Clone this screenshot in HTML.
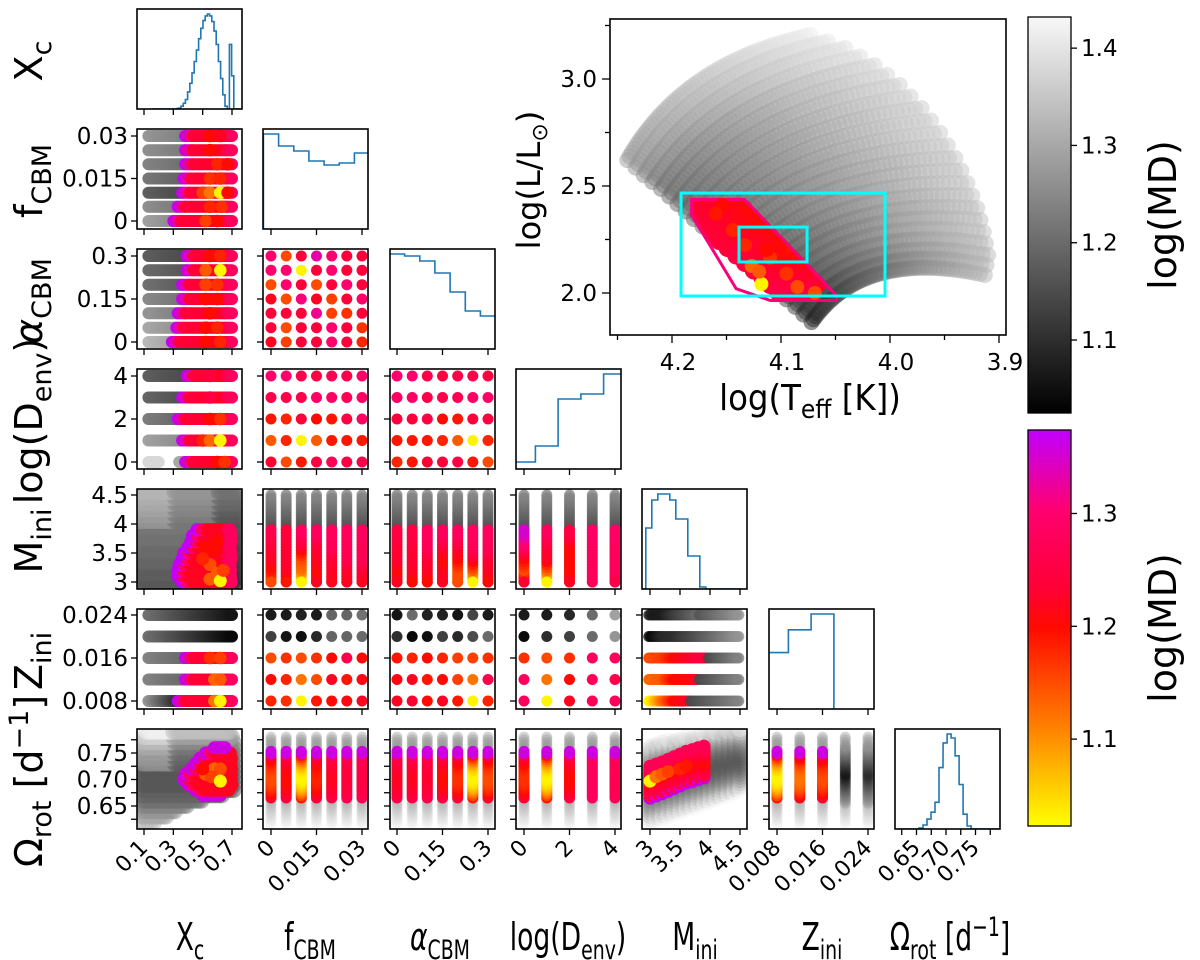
<!DOCTYPE html>
<html><head><meta charset="utf-8"><title>Corner plot</title>
<style>
html,body{margin:0;padding:0;background:#fff;}
svg{display:block;font-family:"DejaVu Sans","Liberation Sans",sans-serif;}
</style></head>
<body>
<svg id="chart" xmlns="http://www.w3.org/2000/svg" width="1200" height="960" viewBox="0 0 1200 960">
<defs>
<linearGradient id="gGray" x1="0" y1="1" x2="0" y2="0">
<stop offset="0" stop-color="#000"/><stop offset="1" stop-color="#f8f8f8"/>
</linearGradient>
<linearGradient id="gHot" x1="0" y1="1" x2="0" y2="0">
<stop offset="0" stop-color="#ffff00"/><stop offset="0.25" stop-color="#ff8000"/><stop offset="0.5" stop-color="#ff0a00"/><stop offset="0.6" stop-color="#ff0035"/><stop offset="0.8" stop-color="#ff0070"/><stop offset="1" stop-color="#c000ff"/>
</linearGradient>
</defs>
</svg>
<script>
// ---------------- DATA ----------------
const fVals=[0.03,0.025,0.02,0.015,0.01,0.005,0];
const aVals=[0.3,0.25,0.2,0.15,0.1,0.05,0];
const dVals=[4,3,2,1,0];
const zVals=[0.024,0.020,0.016,0.012,0.008];
const fBandStart=[0.38,0.38,0.38,0.37,0.36,0.33,0.30];
const fBandGray=[1.24,1.23,1.21,1.19,1.15,1.23,1.26];
const fBandHot=[[[0.55,1.2],[0.62,1.22]],[[0.55,1.2]],[[0.6,1.18],[0.67,1.2]],[[0.55,1.17],[0.62,1.18]],[[0.5,1.16],[0.55,1.12],[0.62,1.03],[0.67,1.2]],[[0.55,1.18],[0.63,1.17]],[[0.52,1.16],[0.6,1.2]]];
const aBandStart=[0.39,0.39,0.36,0.36,0.33,0.32,0.29];
const aBandGray=[1.15,1.17,1.18,1.22,1.24,1.27,1.3];
const aBandHot=[[[0.55,1.2],[0.62,1.18]],[[0.52,1.14],[0.62,1.03]],[[0.52,1.16],[0.6,1.17]],[[0.52,1.2],[0.6,1.2]],[[0.55,1.2]],[[0.52,1.2],[0.6,1.18]],[[0.52,1.2],[0.62,1.18]]];
const dBandStart=[0.39,0.36,0.33,0.36,0.38];
const dBandGray=[1.15,1.16,1.2,1.26,1.38];
const dBandHot=[[[0.55,1.24]],[[0.55,1.25]],[[0.55,1.2],[0.62,1.17]],[[0.5,1.18],[0.55,1.13],[0.62,1.03]],[[0.6,1.2],[0.65,1.17]]];
const zBandStart=[0,0,0.38,0.38,0.33];
const zBandGrayL=[1.21,1.21,1.21,1.21,1.24];
const zBandGrayR=[1.06,1.04,1.2,1.2,1.1];
const zBandHot=[[],[],[[0.55,1.17],[0.62,1.16]],[[0.58,1.13],[0.62,1.14]],[[0.58,1.12],[0.62,1.03]]];
const mdFA=[[1.3,1.15,1.24,1.33,1.3,1.24,1.24],[1.3,1.3,1.03,1.24,1.3,1.24,1.24],[1.15,1.3,1.24,1.15,1.24,1.3,1.24],[1.22,1.15,1.31,1.22,1.16,1.24,1.3],[1.24,1.24,1.24,1.32,1.16,1.17,1.24],[1.24,1.15,1.24,1.24,1.3,1.24,1.17],[1.22,1.16,1.24,1.24,1.3,1.24,1.18]];
const mdFD=[[1.3,1.3,1.26,1.25,1.27,1.26,1.29],[1.26,1.26,1.26,1.29,1.29,1.27,1.29],[1.19,1.18,1.24,1.2,1.19,1.25,1.29],[1.14,1.18,1.03,1.14,1.19,1.19,1.19],[1.23,1.15,1.19,1.25,1.27,1.25,1.26]];
const mdAD=[[1.3,1.3,1.26,1.25,1.26,1.26,1.25],[1.29,1.29,1.26,1.26,1.27,1.29,1.29],[1.24,1.24,1.25,1.2,1.19,1.24,1.25],[1.19,1.19,1.19,1.18,1.14,1.03,1.18],[1.18,1.19,1.23,1.24,1.25,1.19,1.15]];
const mdFZ=[[1.07,1.07,1.08,1.07,1.19,1.19,1.21],[1.13,1.06,1.05,1.09,1.19,1.19,1.2],[1.15,1.17,1.15,1.17,1.2,1.26,1.2],[1.2,1.18,1.12,1.15,1.22,1.19,1.21],[1.18,1.17,1.03,1.19,1.2,1.21,1.22]];
const mdAZ=[[1.06,1.2,1.08,1.08,1.06,1.14,1.07],[1.1,1.04,1.05,1.13,1.09,1.15,1.2],[1.19,1.18,1.2,1.18,1.16,1.16,1.17],[1.21,1.22,1.19,1.2,1.16,1.12,1.26],[1.22,1.23,1.2,1.22,1.19,1.03,1.18]];
const mdDZ=[[1.07,1.07,1.09,1.2,1.29],[1.04,1.1,1.13,1.2,1.27],[1.17,1.15,1.17,1.28,1.28],[1.28,1.12,1.2,1.27,1.26],[1.28,1.03,1.22,1.27,1.28]];
const zColored=[false,false,true,true,true];
const miniKnots=[3.0,3.2,3.4,3.6,3.85];
const mdMF=[[1.15,1.19,1.22,1.23,1.26],[1.19,1.22,1.23,1.23,1.24],[1.03,1.12,1.15,1.22,1.28],[1.22,1.2,1.22,1.23,1.28],[1.22,1.22,1.23,1.27,1.28],[1.22,1.22,1.26,1.27,1.28],[1.22,1.23,1.27,1.27,1.28]];
const mdMA=[[1.22,1.2,1.23,1.23,1.25],[1.2,1.22,1.23,1.23,1.25],[1.2,1.22,1.23,1.27,1.28],[1.22,1.22,1.2,1.23,1.28],[1.15,1.15,1.2,1.23,1.28],[1.03,1.14,1.22,1.27,1.28],[1.2,1.22,1.23,1.27,1.28]];
const mdMD=[[1.23,1.15,1.2,1.28,1.35],[1.03,1.13,1.22,1.23,1.28],[1.22,1.2,1.2,1.2,1.25],[1.28,1.28,1.28,1.28,1.29],[1.26,1.28,1.28,1.28,1.29]];
const omCenterF=[1.15,1.2,1.03,1.18,1.22,1.24,1.25];
const omCenterA=[1.22,1.22,1.23,1.2,1.17,1.03,1.15];
const omCenterD=[1.17,1.03,1.2,1.28,1.27];
const omCenterZ=[1.03,1.12,1.15,1.04,1.08];
const mxMini=[3.0,3.1,3.2,3.3,3.4,3.5,3.6,3.7,3.8,3.9];
const mxStart=[0.36,0.33,0.33,0.34,0.36,0.37,0.40,0.42,0.43,0.46];
const mxGrayMini=[2.95,3.05,3.15,3.25,3.35,3.45,3.55,3.65,3.75,3.85,3.95,4.05,4.15,4.25,4.35,4.45,4.55];
const mxGrayMD=[1.17,1.17,1.18,1.18,1.19,1.19,1.2,1.2,1.21,1.21,1.22,1.22,1.23,1.24,1.25,1.26,1.27];
const mxHi=[[0.55,3.3,1.15],[0.55,3.05,1.14],[0.6,3.15,1.14],[0.52,3.6,1.2],[0.58,3.55,1.2],[0.5,3.4,1.18],[0.62,3.02,1.03],[0.64,3.2,1.16],[0.6,3.7,1.2]];
const oxOm=[0.61,0.62,0.63,0.64,0.65,0.66,0.67,0.68,0.69,0.70,0.71,0.72,0.73,0.74,0.75,0.76,0.77,0.78,0.79];
const oxLo=[0.09,0.09,0.09,0.09,0.09,0.09,0.09,0.09,0.09,0.09,0.09,0.09,0.09,0.09,0.09,0.09,0.09,0.1,0.12];
const oxHi=[0.12,0.18,0.25,0.32,0.4,0.5,0.65,0.72,0.72,0.72,0.72,0.72,0.72,0.72,0.72,0.72,0.72,0.72,0.7];
const oxMD=[1.38,1.34,1.3,1.27,1.24,1.21,1.19,1.18,1.17,1.17,1.17,1.17,1.18,1.19,1.2,1.22,1.25,1.29,1.34];
const oxHotOm=[0.67,0.68,0.69,0.70,0.71,0.72,0.73,0.74,0.75,0.76];
const oxHotStart=[0.5,0.45,0.4,0.37,0.38,0.42,0.45,0.48,0.52,0.58];
const oxHotEnd=[0.62,0.68,0.70,0.70,0.70,0.70,0.70,0.70,0.69,0.66];
const oxHiPts=[[0.52,0.71,1.14],[0.58,0.72,1.13],[0.62,0.72,1.15],[0.56,0.705,1.16],[0.5,0.72,1.2],[0.62,0.697,1.03]];
const omMini=[3.0,3.1,3.2,3.3,3.4,3.5,3.6,3.7,3.8,3.9,4.0,4.1,4.2,4.3,4.4,4.5];
const omTop=[0.768,0.771,0.773,0.775,0.777,0.779,0.781,0.783,0.785,0.787,0.789,0.79,0.792,0.793,0.794,0.795];
const omBot=[0.618,0.622,0.626,0.63,0.634,0.638,0.642,0.646,0.65,0.654,0.658,0.662,0.666,0.67,0.675,0.68];
const omHotMini=[3.0,3.1,3.2,3.3,3.4,3.5,3.6,3.7,3.8,3.9];
const omHotC=[0.697,0.701,0.705,0.71,0.715,0.72,0.725,0.728,0.732,0.735];
const omHi=[[3.0,0.697,1.03],[3.1,0.705,1.12],[3.2,0.71,1.14],[3.3,0.715,1.16],[3.5,0.72,1.18],[3.6,0.725,1.19]];
const zmKnots=[3.0,3.2,3.4,3.6,3.8];
const zmMD=[[1.07,1.07,1.12,1.16,1.2],[1.03,1.09,1.1,1.13,1.16],[1.15,1.16,1.2,1.22,1.24],[1.13,1.14,1.2,1.2,1.22],[1.03,1.12,1.2,1.22,1.22]];
const zmHotEnd=[0,0,3.95,3.8,3.65];
const xcHistC=[0.30,0.315,0.33,0.345,0.36,0.375,0.39,0.405,0.42,0.435,0.45,0.465,0.48,0.495,0.51,0.525,0.54,0.555,0.57,0.585,0.60,0.615,0.63,0.645,0.66,0.675,0.69,0.705];
const xcHistN=[0,0,0.5,1,3,6,10,18,27,38,50,62,74,85,93,98,100,98,92,82,68,50,32,15,3,0,68,35];
const fHistN=[95,83,78,68,64,66,76];
const aHistN=[95,93,88,76,57,38,33];
const dHistN=[7,23,70,75,95];
const mHistC=[2.98,3.08,3.18,3.28,3.38,3.48,3.58,3.68,3.78,3.88,3.98];
const mHistN=[61,89,95,95,89,70,70,33,33,2,0];
const zHistC=[0.008,0.012,0.016];
const zHistN=[57,80,96];
const oHistC=[0.6576,0.6644,0.6712,0.678,0.6848,0.6916,0.6984,0.7052,0.712,0.7188,0.7256,0.7324,0.7392];
const oHistN=[1,4,10,17,27,62,87,96,92,74,45,15,3];
const trStartT=[4.241,4.2335,4.226,4.218,4.210,4.2025,4.195,4.1875,4.180,4.172,4.164,4.1565,4.149,4.141,4.133,4.125,4.117,4.110,4.103,4.095,4.087,4.0795,4.072];
const trStartL=[2.621,2.586,2.551,2.5185,2.486,2.451,2.416,2.381,2.346,2.311,2.276,2.243,2.210,2.175,2.140,2.105,2.070,2.0375,2.005,1.970,1.935,1.8995,1.864];
const trEndT=[4.073,4.057,4.041,4.0275,4.014,4.0025,3.991,3.981,3.971,3.9625,3.954,3.947,3.940,3.9345,3.929,3.9245,3.920,3.917,3.914,3.912,3.910,3.9115,3.913];
const trEndL=[3.206,3.1755,3.145,3.105,3.065,3.0185,2.972,2.918,2.864,2.806,2.748,2.6895,2.631,2.5725,2.514,2.4555,2.397,2.341,2.285,2.2315,2.178,2.131,2.084];
const trMDs=[1.28,1.27,1.25,1.23,1.21,1.2,1.19,1.185,1.18,1.175,1.17,1.17,1.17,1.165,1.16,1.155,1.15,1.145,1.14,1.13,1.12,1.1,1.08];
const trMDe=[1.41,1.40,1.395,1.39,1.38,1.375,1.37,1.365,1.36,1.36,1.36,1.355,1.35,1.35,1.35,1.345,1.34,1.34,1.34,1.335,1.33,1.325,1.32];
const hotTracks=[3,4,5,6,7,8,9,10,11,12,13,14,15,16,17,18,19,20];
const hotTrackMD=[[1.27,1.22,1.27],[1.25,1.21,1.27],[1.25,1.2,1.26],[1.24,1.2,1.26],[1.24,1.2,1.26],[1.24,1.19,1.26],[1.24,1.19,1.27],[1.24,1.19,1.27],[1.24,1.18,1.27],[1.24,1.18,1.27],[1.25,1.17,1.27],[1.25,1.18,1.27],[1.25,1.17,1.28],[1.25,1.16,1.28],[1.25,1.17,1.28],[1.26,1.18,1.28],[1.27,1.19,1.29],[1.28,1.2,1.3]];
const patchT=[4.1835,4.133,4.0477,4.0477,4.110,4.142,4.1835];
const patchL=[2.444,2.444,1.991,1.958,1.958,2.014,2.364];
const hrHi=[[4.118,2.042,1.03],[4.127,2.126,1.13],[4.110,2.164,1.17],[4.133,2.224,1.18],[4.144,2.294,1.18],[4.085,2.028,1.15],[4.069,2.0,1.15],[4.113,2.2,1.2],[4.154,2.411,1.2],[4.095,2.09,1.17],[4.16,2.37,1.19],[4.12,2.1,1.14]];
const boxBig=[4.1917,4.0046,2.467,1.986];
const boxSmall=[4.1385,4.0761,2.308,2.145];
const hrXTicks=[4.25,4.2,4.15,4.1,4.05,4.0,3.95,3.9];
const hrXLabels=['','4.2','','4.1','','4.0','','3.9'];
const hrYTicks=[3.25,3.0,2.75,2.5,2.25,2.0];
const hrYLabels=['','3.0','','2.5','','2.0'];
const grayCbTicks=[1.1,1.2,1.3,1.4];
const hotCbTicks=[1.1,1.2,1.3];

// ---------------- HELPERS ----------------
const NS='http://www.w3.org/2000/svg';
const svg=document.getElementById('chart');
function mk(tag,parent){const e=document.createElementNS(NS,tag);(parent||svg).appendChild(e);return e;}
function lerp(a,b,t){return a+(b-a)*t;}
function clamp(t){return Math.max(0,Math.min(1,t));}
const HS=[[0,[255,255,0]],[0.25,[255,128,0]],[0.5,[255,10,0]],[0.6,[255,0,53]],[0.8,[255,0,112]],[1,[192,0,255]]];
function hot(md){const t=clamp((md-1.023)/0.351);for(let i=1;i<HS.length;i++){if(t<=HS[i][0]){const u=(t-HS[i-1][0])/(HS[i][0]-HS[i-1][0]);const a=HS[i-1][1],b=HS[i][1];return 'rgb('+Math.round(lerp(a[0],b[0],u))+','+Math.round(lerp(a[1],b[1],u))+','+Math.round(lerp(a[2],b[2],u))+')';}}return 'rgb(192,0,255)';}
function gry(md){const v=Math.round(clamp((md-1.025)/0.407)*248);return 'rgb('+v+','+v+','+v+')';}
function dot(g,x,y,r,fill,op){const c=mk('circle',g);c.setAttribute('cx',x.toFixed(1));c.setAttribute('cy',y.toFixed(1));c.setAttribute('r',r);c.setAttribute('fill',fill);if(op!==undefined)c.setAttribute('fill-opacity',op);


return c;}
function txt(parent,x,y,s,size,anchor,rot,sx){const t=mk('text',parent);t.setAttribute('font-size',size);t.setAttribute('text-anchor',anchor||'middle');t.setAttribute('fill','#000');
  if(sx){t.setAttribute('x',0);t.setAttribute('y',0);t.setAttribute('transform','translate('+x+' '+y+') scale('+sx+' 1)');}
  else{t.setAttribute('x',x);t.setAttribute('y',y);if(rot)t.setAttribute('transform','rotate('+rot+' '+x+' '+y+')');}
  t.innerHTML=s;return t;}

const COLX=[137,263,390,516,642,769,895], ROWY=[9,129,249,369,489,609,729], PW=105, PH=100;
const XS=[v=>7+(v-0.1)/0.6*88, v=>8+v/0.03*91, v=>7+v/0.3*91, v=>8+v/4*91, v=>8+(v-3)/1.5*90, v=>8+(v-0.008)/0.016*91, v=>51+(v-0.70)/0.05*29.5];
const YS=[null, v=>92-v/0.03*85, v=>93-v/0.3*86, v=>93-v/4*86, v=>93-(v-3)/1.5*87, v=>92-(v-0.008)/0.016*86, v=>50.5-(v-0.70)/0.05*26.5];
const TK=[[0.1,0.3,0.5,0.7],[0,0.015,0.03],[0,0.15,0.3],[0,2,4],[3,3.5,4,4.5],[0.008,0.016,0.024],[0.625,0.65,0.675,0.70,0.725,0.75,0.775]];
const TL=[['0.1','0.3','0.5','0.7'],['0','0.015','0.03'],['0','0.15','0.3'],['0','2','4'],['3','3.5','4','4.5'],['0.008','0.016','0.024'],['','0.65','','0.70','','0.75','']];
const NAMES=['xc','fcbm','alpha-cbm','log-denv','mini','zini','omega-rot'];

function panel(c,r){
  const g=mk('g');
  
  
  g.setAttribute('transform','translate('+COLX[c]+','+ROWY[r]+')');
  const cp=mk('clipPath',g);cp.setAttribute('id','cp'+c+'_'+r);
  const rr=mk('rect',cp);rr.setAttribute('width',PW);rr.setAttribute('height',PH);
  const inner=mk('g',g);inner.setAttribute('clip-path','url(#cp'+c+'_'+r+')');
  
  
  return {g,inner,c,r,x:XS[c],y:YS[r]};
}
function frame(P){
  const g=P.g;
  const f=mk('rect',g);f.setAttribute('width',PW);f.setAttribute('height',PH);f.setAttribute('fill','none');f.setAttribute('stroke','#000');f.setAttribute('stroke-width','1.6');
  
  
  TK[P.c].forEach((v,i)=>{const l=mk('line',g);const x=P.x(v);l.setAttribute('x1',x);l.setAttribute('x2',x);l.setAttribute('y1',PH);l.setAttribute('y2',PH+6);l.setAttribute('stroke','#000');l.setAttribute('stroke-width','1.3');
    
    
    if(P.r===6&&TL[P.c][i]){const t=txt(g,x+5,PH+20,TL[P.c][i],22,'end',-45);
      
      }
  });
  if(P.r!==P.c){TK[P.r].forEach((v,i)=>{const l=mk('line',g);const y=P.y(v);l.setAttribute('x1',-6);l.setAttribute('x2',0);l.setAttribute('y1',y);l.setAttribute('y2',y);l.setAttribute('stroke','#000');l.setAttribute('stroke-width','1.3');
    
    
    if(P.c===0&&TL[P.r][i]){const t=txt(g,-9,y+8,TL[P.r][i],23,'end');
      
      }
  });}
}
function xband(P,y,from,to,mdA,mdB,cm,r,op){for(let v=from;v<=to+1e-9;v+=0.01){const t=(to>from)?(v-from)/(to-from):0;dot(P.inner,P.x(v),y,r,cm(lerp(mdA,mdB,t)),op);}}
function bandPanel(r,vals,start,grayL,grayR,hots){
  const P=panel(0,r);
  vals.forEach((val,i)=>{const y=P.y(val);
    if(start[i]>0){
      if(grayL[i]>1.35){xband(P,y,0.13,0.2,grayL[i],grayL[i],gry,6);xband(P,y,start[i]-0.04,start[i],1.3,1.3,gry,6);}
      else xband(P,y,0.13,start[i],grayL[i]+0.03,grayR[i],gry,6);
      xband(P,y,start[i],start[i]+0.05,1.37,1.32,hot,6);
      xband(P,y,start[i]+0.05,0.66,1.24,1.22,hot,6);
      xband(P,y,0.66,0.70,1.25,1.28,hot,6);
      hots[i].forEach(h=>dot(P.inner,P.x(h[0]),y,6.3,hot(h[1])));
    } else {
      xband(P,y,0.13,0.70,grayL[i],grayR[i],gry,6);
    }
  });
  frame(P);
}
function gridPanel(c,r,xv,yv,md,colored){
  const P=panel(c,r);
  yv.forEach((yy,j)=>xv.forEach((xx,i)=>{const m=md[j][i];dot(P.inner,P.x(xx),P.y(yy),5.5,(colored&&!colored[j])?gry(m):hot(m));}));
  frame(P);
}
function miniStrips(c,xv,md){
  const P=panel(c,4);
  xv.forEach((xx,i)=>{const x=P.x(xx);
    for(let m=3.95;m<=4.5+1e-9;m+=0.05){dot(P.inner,x,P.y(m),5.5,gry(lerp(1.15,1.24,(m-3.95)/0.55)),0.8);}
    for(let m=3.0;m<=3.9+1e-9;m+=0.05){let k=0;while(k<miniKnots.length-2&&m>miniKnots[k+1])k++;const t=clamp((m-miniKnots[k])/(miniKnots[k+1]-miniKnots[k]));dot(P.inner,x,P.y(m),5.5,hot(lerp(md[i][k],md[i][k+1],t)));}
    dot(P.inner,x,P.y(3.0),5.5,hot(md[i][0]));
  });
  frame(P);
}
function omStrips(c,xv,center,colored){
  const P=panel(c,6);
  xv.forEach((xx,i)=>{const x=P.x(xx);const col=colored?colored[i]:true;
    for(let o=0.615;o<=0.785;o+=0.005){dot(P.inner,x,P.y(o),5.5,gry(o<0.7?lerp(1.2,1.42,(0.7-o)/0.085):lerp(1.18,1.28,(o-0.7)/0.085)),0.4);}
    if(col){for(let o=0.665;o<=0.755;o+=0.004){const d=Math.abs(o-0.705)/0.05;dot(P.inner,x,P.y(o),5.5,hot(d>0.88?1.36:lerp(center[i],1.28,d*d)));}}
    else{for(let o=0.655;o<=0.765;o+=0.004){const d=Math.abs(o-0.71)/0.055;dot(P.inner,x,P.y(o),5.5,gry(lerp(center[i],1.28,d)),0.45);}}
  });
  frame(P);
}
function hist(c,centers,counts,w,lastDrop){
  const P=panel(c,c);
  const mx=Math.max(...counts);
  const Y=n=>PH-n/mx*95;
  let d='M'+(P.x(centers[0]-w/2)-20)+','+PH+' L'+P.x(centers[0]-w/2)+','+PH;
  centers.forEach((v,i)=>{const a=P.x(v-w/2),b=P.x(v+w/2);d+=' L'+a.toFixed(1)+','+Y(counts[i]).toFixed(1)+' L'+b.toFixed(1)+','+Y(counts[i]).toFixed(1);});
  const lastX=P.x(centers[centers.length-1]+w/2);
  d+=' L'+lastX.toFixed(1)+','+PH;
  if(!lastDrop)d+=' L'+(lastX+30)+','+PH;
  const p=mk('path',P.inner);p.setAttribute('d',d);p.setAttribute('fill','none');p.setAttribute('stroke','#1f77b4');p.setAttribute('stroke-width','1.6');
  
  
  frame(P);
}

// ---------------- DIAGONAL ----------------
hist(0,xcHistC,xcHistN,0.015,false);
hist(1,fVals.slice().reverse(),fHistN,0.005,true);
hist(2,aVals.slice().reverse(),aHistN,0.05,true);
hist(3,dVals.slice().reverse(),dHistN,1,true);
hist(4,mHistC,mHistN,0.1,false);
hist(5,zHistC,zHistN,0.004,true);
hist(6,oHistC,oHistN,0.0068,false);

// ---------------- COLUMN 0 ----------------
bandPanel(1,fVals,fBandStart,fBandGray,fBandGray,fBandHot);
bandPanel(2,aVals,aBandStart,aBandGray,aBandGray,aBandHot);
bandPanel(3,dVals,dBandStart,dBandGray,dBandGray,dBandHot);
bandPanel(5,zVals,zBandStart,zBandGrayL,zBandGrayR,zBandHot);
(function(){const P=panel(0,4);
  mxGrayMini.forEach((m,i)=>{for(let v=0.07;v<=0.74;v+=0.02){dot(P.inner,P.x(v),P.y(m),8,gry(mxGrayMD[i]+(v<0.3&&m>4?0.05:0)-(v>0.6?0.06:0)),0.6);}});
  mxMini.forEach((m,i)=>{const y=P.y(m);
    for(let v=mxStart[i];v<=0.70;v+=0.012){const t=(v-mxStart[i]);dot(P.inner,P.x(v),y,6.5,hot(t<0.035?1.37:(t<0.07?1.29:(v>0.67?1.28:1.22))));}
  });
  mxHi.forEach(h=>dot(P.inner,P.x(h[0]),P.y(h[1]),6.5,hot(h[2])));
  frame(P);})();
(function(){const P=panel(0,6);
  oxOm.forEach((o,i)=>{for(let v=oxLo[i];v<=oxHi[i];v+=0.02){dot(P.inner,P.x(v),P.y(o),8,gry(oxMD[i]+(v<0.3&&o>0.72?0.08:0)),0.55);}});
  oxHotOm.forEach((o,i)=>{const y=P.y(o);
    for(let v=oxHotStart[i];v<=oxHotEnd[i]+1e-9;v+=0.012){const t=v-oxHotStart[i];dot(P.inner,P.x(v),y,6.5,hot(t<0.035||i===0||i===oxHotOm.length-1?1.36:(t<0.07?1.28:1.22)));}
  });
  oxHiPts.forEach(h=>dot(P.inner,P.x(h[0]),P.y(h[1]),6.5,hot(h[2])));
  frame(P);})();

// ---------------- GRID PANELS ----------------
gridPanel(1,2,fVals.slice().reverse(),aVals,mdFA);
gridPanel(1,3,fVals.slice().reverse(),dVals,mdFD);
gridPanel(2,3,aVals.slice().reverse(),dVals,mdAD);
miniStrips(1,fVals.slice().reverse(),mdMF);
miniStrips(2,aVals.slice().reverse(),mdMA);
miniStrips(3,dVals.slice().reverse(),mdMD);
gridPanel(1,5,fVals.slice().reverse(),zVals,mdFZ,zColored);
gridPanel(2,5,aVals.slice().reverse(),zVals,mdAZ,zColored);
gridPanel(3,5,dVals.slice().reverse(),zVals,mdDZ,zColored);
(function(){const P=panel(4,5);
  zVals.forEach((z,j)=>{const y=P.y(z);
    const he=zmHotEnd[j];
    for(let m=2.98;m<=4.5;m+=0.03){
      if(m<=he){let k=0;while(k<zmKnots.length-2&&m>zmKnots[k+1])k++;const t=clamp((m-zmKnots[k])/(zmKnots[k+1]-zmKnots[k]));dot(P.inner,P.x(m),y,5.5,hot(lerp(zmMD[j][k],zmMD[j][k+1],t)));}
      else if(he===0){let k=0;while(k<zmKnots.length-2&&m>zmKnots[k+1])k++;const t=clamp((m-zmKnots[k])/(zmKnots[k+1]-zmKnots[k]));dot(P.inner,P.x(m),y,5.5,gry(m>3.8?lerp(1.16,1.27,(m-3.8)/0.7):lerp(zmMD[j][k],zmMD[j][k+1],t)),0.8);}
      else dot(P.inner,P.x(m),y,5.5,gry(lerp(1.14,1.24,(m-he)/(4.5-he))),0.8);
    }
  });
  frame(P);})();

// ---------------- OMEGA ROW ----------------
omStrips(1,fVals.slice().reverse(),omCenterF);
omStrips(2,aVals.slice().reverse(),omCenterA);
omStrips(3,dVals.slice().reverse(),omCenterD);
(function(){const P=panel(4,6);
  omMini.forEach((m,i)=>{const x=P.x(m);const mid=(omTop[i]+omBot[i])/2;
    for(let o=omBot[i];o<=omTop[i];o+=0.006){const d=Math.abs(o-mid)/((omTop[i]-omBot[i])/2);dot(P.inner,x,P.y(o),7.5,gry(lerp(1.17,1.42,d*d)),0.45);}});
  omHotMini.forEach((m,i)=>{const x=P.x(m);
    for(let o=omHotC[i]-0.032;o<=omHotC[i]+0.03;o+=0.004){const d=Math.abs(o-omHotC[i])/0.032;dot(P.inner,x,P.y(o),6.5,hot(d>0.88?1.37:lerp(1.2,1.28,d)));}});
  omHi.forEach(h=>dot(P.inner,P.x(h[0]),P.y(h[1]),6.5,hot(h[2])));
  frame(P);})();
omStrips(5,zVals.slice().reverse(),omCenterZ,[true,true,true,false,false]);

// ---------------- HR DIAGRAM ----------------
const hx=T=>672+(4.2-T)*1090, hy=L=>79+(3.0-L)*214;
(function(){
  const g=mk('g');
  
  
  const cp=mk('clipPath',g);cp.setAttribute('id','cpHR');const r=mk('rect',cp);r.setAttribute('x',610);r.setAttribute('y',19);r.setAttribute('width',396);r.setAttribute('height',316);
  const inner=mk('g',g);inner.setAttribute('clip-path','url(#cpHR)');
  function bez(k,s){const sx=hx(trStartT[k]),sy=hy(trStartL[k]),ex=hx(trEndT[k]),ey=hy(trEndL[k]);const cx=sx+0.3*(ex-sx),cy=sy+0.3*(ey-sy)-60;const u=1-s;return [u*u*sx+2*u*s*cx+s*s*ex,u*u*sy+2*u*s*cy+s*s*ey];}
  trStartT.forEach((t,k)=>{for(let s=0;s<=1.0001;s+=0.02){const p=bez(k,s);dot(inner,p[0],p[1],8,gry(lerp(trMDs[k],trMDe[k],s)),0.5);}});
  const pc=mk('clipPath',g);pc.setAttribute('id','cpPatch');const pp=mk('polygon',pc);
  pp.setAttribute('points',patchT.map((t,i)=>hx(t).toFixed(1)+','+hy(patchL[i]).toFixed(1)).join(' '));
  const hg=mk('g',inner);hg.setAttribute('clip-path','url(#cpPatch)');
  
  
  hotTracks.forEach((k,i)=>{for(let s=0;s<=0.7;s+=0.01){const p=bez(k,s);const mdv=s<0.35?lerp(hotTrackMD[i][0],hotTrackMD[i][1],s/0.35):lerp(hotTrackMD[i][1],hotTrackMD[i][2],(s-0.35)/0.35);dot(hg,p[0],p[1],9,hot(mdv));}});
  const pb=mk('polygon',hg);pb.setAttribute('points',pp.getAttribute('points'));pb.setAttribute('fill','none');pb.setAttribute('stroke',hot(1.31));pb.setAttribute('stroke-width','6');
  hrHi.forEach(h=>dot(hg,hx(h[0]),hy(h[1]),7,hot(h[2])));
  [boxBig,boxSmall].forEach((b,i)=>{const rc=mk('rect',inner);rc.setAttribute('x',hx(b[0]));rc.setAttribute('y',hy(b[2]));rc.setAttribute('width',hx(b[1])-hx(b[0]));rc.setAttribute('height',hy(b[3])-hy(b[2]));rc.setAttribute('fill','none');rc.setAttribute('stroke','#00ffff');rc.setAttribute('stroke-width','3');
    
    });
  const f=mk('rect',g);f.setAttribute('x',610);f.setAttribute('y',19);f.setAttribute('width',396);f.setAttribute('height',316);f.setAttribute('fill','none');f.setAttribute('stroke','#000');f.setAttribute('stroke-width','1.6');
  
  
  hrXTicks.forEach((v,i)=>{const x=hx(v);const l=mk('line',g);l.setAttribute('x1',x);l.setAttribute('x2',x);l.setAttribute('y1',335);l.setAttribute('y2',hrXLabels[i]?343:340);l.setAttribute('stroke','#000');l.setAttribute('stroke-width','1.3');
    
    
    if(hrXLabels[i]){const t=txt(g,x+6,370,hrXLabels[i],23);
      
      }});
  hrYTicks.forEach((v,i)=>{const y=hy(v);const l=mk('line',g);l.setAttribute('x1',hrYLabels[i]?602:605);l.setAttribute('x2',610);l.setAttribute('y1',y);l.setAttribute('y2',y);l.setAttribute('stroke','#000');l.setAttribute('stroke-width','1.3');
    
    
    if(hrYLabels[i]){const t=txt(g,597,y+8,hrYLabels[i],23,'end');
      
      }});
  const yt=txt(g,540,180,'log(L/L<tspan font-size="22" dy="7">⊙</tspan><tspan dy="-7">)</tspan>',32,'middle',-90);
  
  
  const xt=txt(g,810,410,'log(T<tspan font-size="26" dy="8">eff</tspan><tspan dy="-8"> [K])</tspan>',36,'middle',0,0.9);
  
  
})();

// ---------------- COLORBARS ----------------
function cbar(y0,h,grad,vmin,vmax,ticks,name){
  const g=mk('g');
  
  
  const r=mk('rect',g);r.setAttribute('x',1028);r.setAttribute('y',y0);r.setAttribute('width',43);r.setAttribute('height',h);r.setAttribute('fill','url(#'+grad+')');r.setAttribute('stroke','#000');r.setAttribute('stroke-width','1.3');
  ticks.forEach(v=>{const y=y0+h-(v-vmin)/(vmax-vmin)*h;const l=mk('line',g);l.setAttribute('x1',1071);l.setAttribute('x2',1077);l.setAttribute('y1',y);l.setAttribute('y2',y);l.setAttribute('stroke','#000');l.setAttribute('stroke-width','1.3');
    
    
    const t=txt(g,1081,y+8,v.toFixed(1),23,'start');
    
    });
  const t=txt(g,1176,y0+h/2,'log(MD)',38,'middle',-90);
  
  
}
cbar(17,396,'gGray',1.025,1.432,grayCbTicks,'colorbar-gray');
cbar(430,396,'gHot',1.023,1.374,hotCbTicks,'colorbar-hot');

// ---------------- AXIS TITLES ----------------
const leftTitles=['X<tspan font-size="27" dy="9">c</tspan>','f<tspan font-size="27" dy="9">CBM</tspan>','<tspan font-style="italic">α</tspan><tspan font-size="27" dy="9">CBM</tspan>','log(D<tspan font-size="27" dy="9">env</tspan><tspan dy="-9">)</tspan>','M<tspan font-size="27" dy="9">ini</tspan>','Z<tspan font-size="27" dy="9">ini</tspan>','Ω<tspan font-size="27" dy="9">rot</tspan><tspan dy="-9"> [d</tspan><tspan font-size="27" dy="-14">−1</tspan><tspan dy="14">]</tspan>'];
leftTitles.forEach((s,i)=>{const t=txt(svg,42,ROWY[i]+52,s,38,'middle',-90);
  
  });
const botX=[190,310,440,568,695,822,950];
leftTitles.forEach((s,i)=>{const t=txt(svg,botX[i],950,s,38,'middle',0,0.7);
  
  });
</script>
</body></html>
